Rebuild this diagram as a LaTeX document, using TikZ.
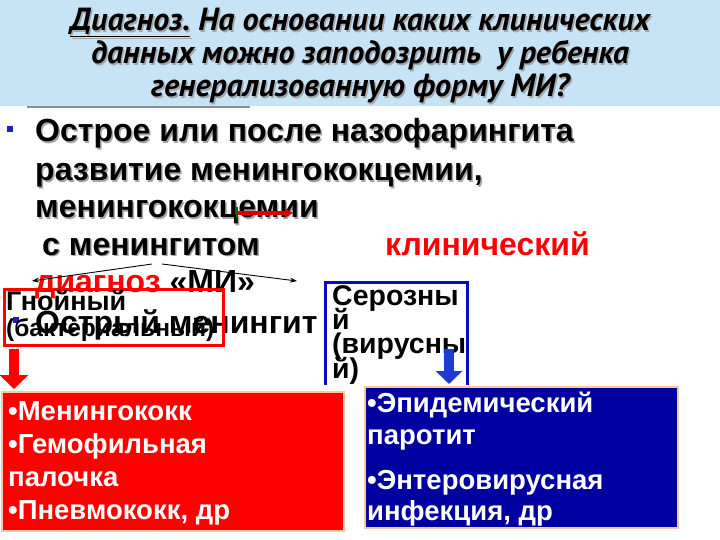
\documentclass[tikz,border=0pt]{standalone}
\usepackage{fontspec}
\setmainfont{Liberation Sans}
\newfontfamily\titlefont{PT Sans}
\usetikzlibrary{arrows.meta}
\definecolor{titlebg}{RGB}{198,228,246}
\definecolor{boxblue}{RGB}{0,0,160}
\definecolor{frameblue}{RGB}{10,10,190}
\definecolor{peach}{RGB}{250,200,160}
\definecolor{arrblue}{RGB}{30,60,210}
\definecolor{bulblue}{RGB}{30,30,200}
\tikzset{
  txt/.style={inner sep=0pt, anchor=base west, font=\bfseries\fontsize{32}{32}\selectfont},
  smalltxt/.style={inner sep=0pt, anchor=base west, font=\bfseries\fontsize{27}{27}\selectfont},
  boxtxt/.style={inner sep=0pt, anchor=base west, text=white, font=\bfseries\fontsize{27.5}{27.5}\selectfont},
  ttl/.style={inner sep=0pt, anchor=base, font=\titlefont\bfseries\itshape\fontsize{32}{32}\selectfont},
  shd/.style={text=black!35, xshift=1.5pt, yshift=-1.5pt},
  bullet/.style={fill=bulblue, minimum size=6pt, inner sep=0pt},
}
\begin{document}
\begin{tikzpicture}[x=1pt,y=-1pt]
\useasboundingbox (0,0) rectangle (720,540);
\fill[white] (0,0) rectangle (720,540);
% title band
\fill[titlebg] (0,0) rectangle (720,106);
\draw[black!45, line width=1.5pt] (27,107) -- (250,107);
\node[ttl,shd] at (360,31) {\underline{Диагноз.} На основании каких клинических};
\node[ttl] (t1) at (360,31) {\underline{Диагноз.} На основании каких клинических};
\node[ttl,shd] at (360,64) {данных можно заподозрить \ у ребенка};
\node[ttl] (t2) at (360,64) {данных можно заподозрить \ у ребенка};
\node[ttl,shd] at (360,97) {генерализованную форму МИ?};
\node[ttl] (t3) at (360,97) {генерализованную форму МИ?};
% main text
\node[bullet] (b1) at (10,129) {};
\node[txt,shd] at (35,142) {Острое или после назофарингита};
\node[txt] (l1) at (35,142) {Острое или после назофарингита};
\node[txt,shd] at (35,181) {развитие менингококцемии,};
\node[txt] (l2) at (35,181) {развитие менингококцемии,};
\node[txt,shd] at (35,218) {менингококцемии};
\node[txt] (l3) at (35,218) {менингококцемии};
\node[txt,shd] at (42,255) {с менингитом};
\node[txt] (l4) at (42,255) {с менингитом};
\node[txt,text=red] (kl) at (385,255) {клинический};
\node[txt,text=red] (dg) at (35,292) {диагноз \textcolor{black}{«МИ»}};
% red arrow under menigococcemia
\coordinate (ra1) at (237,213);
\coordinate (ra2) at (293,213);
\draw[green!40!black, line width=1.2pt] (237,207) -- (237,218);
\draw[red!85!black, line width=4pt, -{Triangle[width=9pt,length=8pt]}] (ra1) -- (ra2);
% fork arrows
\coordinate (fkl) at (152,264);
\coordinate (fkr) at (162,264);
\coordinate (fl) at (32,281);
\coordinate (fr) at (297,281);
\draw[black, line width=0.9pt, -{Stealth[length=7pt,width=5pt]}] (fkl) -- (fl);
\draw[black, line width=0.9pt, -{Stealth[length=7pt,width=5pt]}] (fkr) -- (fr);
% Острый менингит line
\node[bullet] (b2) at (16,320) {};
\node[txt] (om) at (35,333) {Острый менингит};
% purulent box
\node[draw=red, line width=3pt, minimum width=219pt, minimum height=56pt, anchor=north west, inner sep=0pt] (gbox) at (3,288) {};
\node[smalltxt] (gn1) at (6,310) {Гнойный};
\node[smalltxt, font=\bfseries\fontsize{24.5}{24.5}\selectfont] (gn2) at (6,336) {(бактериальный)};
% serous box
\draw[frameblue, line width=3pt] (325,385) -- (325,282) -- (467,282) -- (467,385);
\node[smalltxt, font=\bfseries\fontsize{28.5}{28.5}\selectfont] (s1) at (332,305) {Серозны};
\node[smalltxt, font=\bfseries\fontsize{28.5}{28.5}\selectfont] (s2) at (332,329) {й};
\node[smalltxt, font=\bfseries\fontsize{28.5}{28.5}\selectfont] (s3) at (332,353) {(вирусны};
\node[smalltxt, font=\bfseries\fontsize{28.5}{28.5}\selectfont] (s4) at (332,378) {й)};
% down arrows
\coordinate (rd1) at (14,349);
\coordinate (rd2) at (14,389);
\draw[red, line width=10pt, -{Triangle[width=28pt,length=14pt]}] (rd1) -- (rd2);
\coordinate (bd1) at (449,349);
\coordinate (bd2) at (449,384);
\draw[arrblue, line width=10pt, -{Triangle[width=26pt,length=13pt]}] (bd1) -- (bd2);
% bottom boxes
\node[fill=red, draw=peach, line width=2pt, minimum width=342pt, minimum height=139pt, anchor=north west, inner sep=0pt] (rbox) at (1,391) {};
\node[fill=boxblue, draw=peach, line width=2pt, minimum width=313pt, minimum height=141pt, anchor=north west, inner sep=0pt] (bbox) at (364,386) {};
\node[boxtxt] (r1) at (8,420) {•Менингококк};
\node[boxtxt] (r2) at (8,453) {•Гемофильная};
\node[boxtxt] (r3) at (8,486) {палочка};
\node[boxtxt] (r4) at (8,519) {•Пневмококк, др};
\node[boxtxt] (u1) at (367,412) {•Эпидемический};
\node[boxtxt] (u2) at (367,444) {паротит};
\node[boxtxt] (u3) at (367,489) {•Энтеровирусная};
\node[boxtxt] (u4) at (367,520) {инфекция, др};
\end{tikzpicture}
\end{document}
